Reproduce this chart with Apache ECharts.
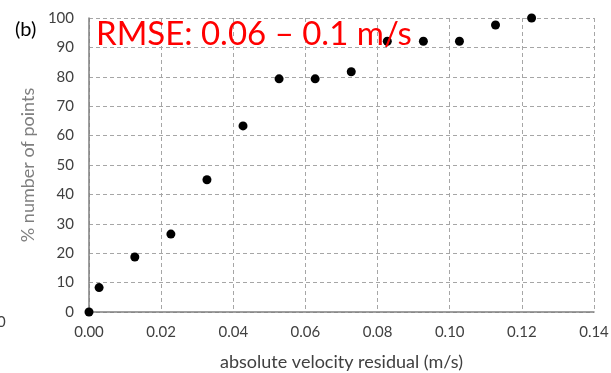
<!DOCTYPE html>
<html><head><meta charset="utf-8">
<script src="https://cdn.jsdelivr.net/npm/echarts@6/dist/echarts.min.js"></script>
<style>html,body{margin:0;padding:0;background:#fff}#c{width:611px;height:373px}</style>
</head><body><div id="c"></div>
<script>
const xValues = [0, 0.0028, 0.0127, 0.0227, 0.0327, 0.0427, 0.0527, 0.0627, 0.0727, 0.0827, 0.0927, 0.1027, 0.1127, 0.1227];
const yValues = [0, 8.3, 18.7, 26.5, 45.0, 63.3, 79.3, 79.3, 81.7, 92.1, 92.1, 92.1, 97.6, 100];
const xTicks = ['0.00','0.02','0.04','0.06','0.08','0.10','0.12','0.14'];
const titleText = 'RMSE: 0.06 – 0.1 m/s';
const panelLabel = '(b)';
const xName = 'absolute velocity residual (m/s)';
const yName = '% number of points';

const font = 'Lato, "Liberation Sans", sans-serif';
const chart = echarts.init(document.getElementById('c'));
chart.setOption({
  animation: false,
  grid: {left: 89, right: 17, top: 18, bottom: 61, outerBoundsMode: 'none', containLabel: false},
  xAxis: {
    type: 'value', min: 0, max: 0.14, interval: 0.02,
    name: xName, nameLocation: 'middle', nameGap: 41,
    nameTextStyle: {color: '#404040', fontSize: 18, fontFamily: font},
    axisLine: {show: true, lineStyle: {color: '#7f7f7f', width: 1.5}},
    axisTick: {show: false},
    axisLabel: {color: '#404040', fontSize: 15, fontFamily: font, margin: 13,
      formatter: v => xTicks[Math.round(v / 0.02)]},
    splitLine: {show: true, lineStyle: {color: '#a6a6a6', type: [4, 3], width: 1}}
  },
  yAxis: {
    type: 'value', min: 0, max: 100, interval: 10,
    name: yName, nameLocation: 'middle', nameGap: 50,
    nameTextStyle: {color: '#7f7f7f', fontSize: 18, fontFamily: font},
    axisLine: {show: true, lineStyle: {color: '#7f7f7f', width: 1.5}},
    axisTick: {show: false},
    axisLabel: {color: '#404040', fontSize: 15, fontFamily: font, margin: 15},
    splitLine: {show: true, lineStyle: {color: '#a6a6a6', type: [4, 3], width: 1}}
  },
  series: [{
    type: 'scatter', symbolSize: 9,
    itemStyle: {color: '#000', opacity: 1},
    data: xValues.map((x, i) => [x, yValues[i]]),
    z: 5
  }],
  graphic: [
    {type: 'text', left: 96, top: 18, z: 10,
      style: {text: titleText, fill: '#ff0000', fontSize: 33, fontFamily: font}},
    {type: 'text', left: 15, top: 20, z: 10,
      style: {text: panelLabel, fill: '#000', fontSize: 20, fontFamily: font}},
    {type: 'text', left: -3, top: 315, z: 10,
      style: {text: '0', fill: '#404040', fontSize: 15, fontFamily: font}}
  ]
});
</script></body></html>
